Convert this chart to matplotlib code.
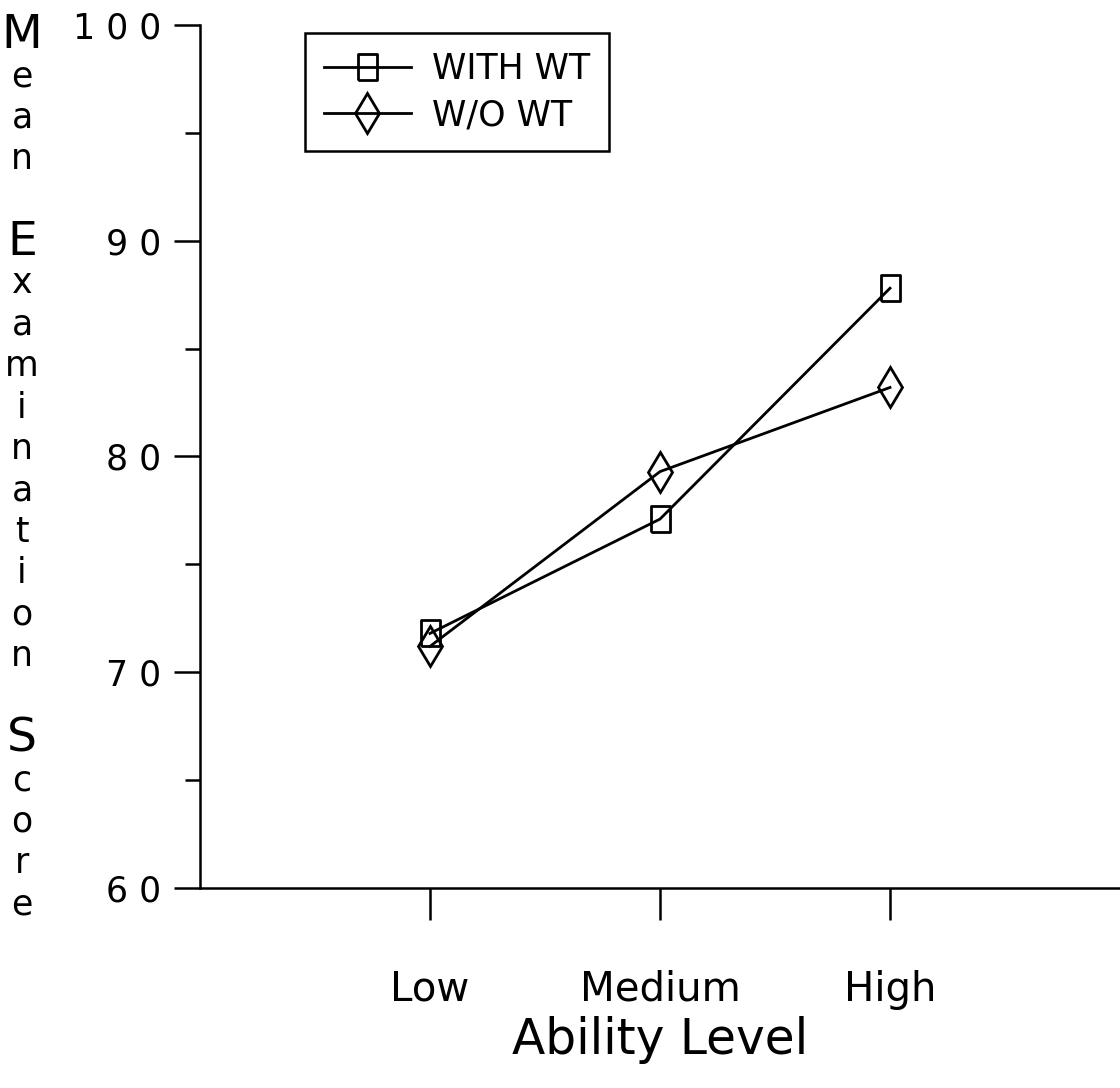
import numpy as np
import matplotlib.pyplot as plt
from matplotlib.ticker import MultipleLocator

# data
levels = ["Low", "Medium", "High"]
with_wt = [71.8, 77.1, 87.8]
without_wt = [71.2, 79.3, 83.2]
ytick_vals = [60, 70, 80, 90, 100]
ytick_labels = ["6 0", "7 0", "8 0", "9 0", "1 0 0"]
ylabel_words = ["Mean", "Examination", "Score"]

plt.rcParams["font.family"] = ["DejaVu Sans"]

fig = plt.figure(figsize=(11.2, 10.88), dpi=100)
ax = fig.add_axes([200/1120, 1 - 888/1088, 920/1120, 863/1088])

x = np.arange(1, len(levels) + 1)
rect = [(-0.72, -1), (0.72, -1), (0.72, 1), (-0.72, 1), (-0.72, -1)]
ax.plot(x, with_wt, color="black", lw=2, marker=rect, ms=19,
        mfc="none", mec="black", mew=2, label="WITH WT")
ax.plot(x, without_wt, color="black", lw=2, marker="d", ms=20,
        mfc="none", mec="black", mew=2, label="W/O WT")

ax.set_xlim(0, 4)
ax.set_ylim(60, 100)
ax.set_xticks(x)
ax.set_xticklabels(levels, fontsize=29)
ax.set_yticks(ytick_vals)
ax.set_yticklabels(ytick_labels, fontsize=25)
ax.yaxis.set_minor_locator(MultipleLocator(5))

ax.tick_params(axis="x", direction="out", length=23, width=1.8, pad=36)
ax.tick_params(axis="y", which="major", direction="out", length=19, width=1.8, pad=9)
ax.tick_params(axis="y", which="minor", direction="out", length=11, width=1.8)

for side in ["top", "right"]:
    ax.spines[side].set_visible(False)
for side in ["left", "bottom"]:
    ax.spines[side].set_linewidth(1.8)

ax.set_xlabel("Ability Level", fontsize=35, labelpad=4)

# stacked y label, one letter per line
step = 41.4 / 1088
ypos = 1 - 35 / 1088
for word in ylabel_words:
    for ch in word:
        fig.text(22/1120, ypos, ch, fontsize=34 if ch.isupper() else 25,
                 ha="center", va="center")
        ypos -= step
    ypos -= step

leg = ax.legend(loc="upper left", bbox_to_anchor=(0.114, 0.991), fontsize=25,
                fancybox=False, edgecolor="black", framealpha=1,
                handlelength=2.5, borderpad=0.55, labelspacing=0.35,
                handletextpad=0.6, borderaxespad=0)
leg.get_frame().set_linewidth(1.8)

fig.savefig("out.png", dpi=100)
